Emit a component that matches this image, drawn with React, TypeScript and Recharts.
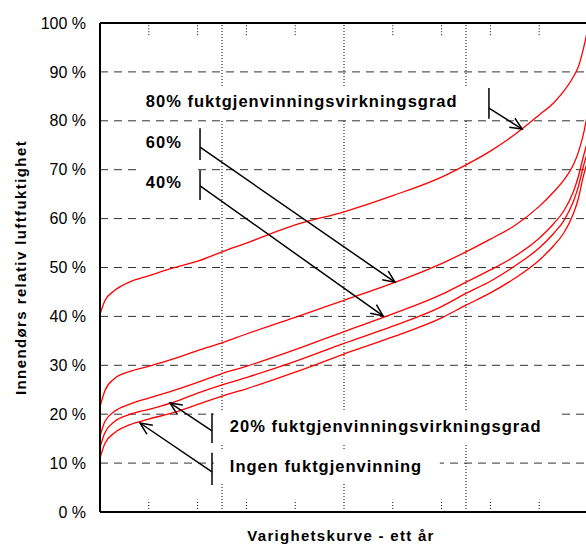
import {
  CartesianGrid,
  Line,
  LineChart,
  ReferenceDot,
  ReferenceLine,
  XAxis,
  YAxis,
} from "recharts";

// andel av året (varighetskurve), 0 = start, 1 = hele året
const durationShare = [
  0, 0.01, 0.03, 0.06, 0.1, 0.15, 0.2, 0.25, 0.3, 0.4, 0.5, 0.6, 0.7, 0.75,
  0.8, 0.85, 0.9, 0.93, 0.95, 0.97, 0.98, 0.99, 1,
];

// innendørs RF (%) for hver virkningsgrad
const rh80 = [
  40.4, 43.2, 45.3, 47, 48.3, 49.9, 51.3, 53.2, 55, 58.7, 61.4, 64.7, 68.5, 71,
  73.8, 77.2, 81.2, 83.7, 86, 89, 91, 94.5, 99,
];
const rh60 = [
  21.5, 24.8, 27.3, 28.7, 29.8, 31.3, 33, 34.6, 36.4, 39.8, 43.3, 46.8, 50.8,
  53.2, 55.8, 58.6, 62.5, 65.5, 67.8, 71, 73.5, 77, 82,
];
const rh40 = [
  15.5, 18.5, 20.6, 22, 23.3, 24.8, 26.5, 28.3, 29.8, 33.2, 36.9, 40.5, 44.5,
  47, 49.5, 52.3, 56, 59, 61.5, 65.5, 68.5, 72.5, 76,
];
const rh20 = [
  13.2, 16.2, 18.5, 19.9, 21, 22.4, 24.3, 26, 27.5, 30.8, 34.5, 38, 42, 44.7,
  47.2, 50.3, 54, 57, 59.5, 63.5, 66.5, 70.5, 74,
];
const rh0 = [
  11, 14, 16.2, 17.8, 19, 20.3, 22, 23.7, 25.2, 28.6, 32.3, 35.8, 39.7, 42.3,
  44.8, 47.8, 51.5, 54.5, 57, 61, 64, 68.5, 72,
];

const humidityTicks = [0, 10, 20, 30, 40, 50, 60, 70, 80, 90, 100];
const quarterLines = [0.25, 0.5, 0.75];
const tenthTicks = [0.1, 0.2, 0.3, 0.4, 0.6, 0.7, 0.8, 0.9];

// tekstetiketter: posisjon i dataenheter (andel, RF %)
const labelTexts = [
  "80% fuktgjenvinningsvirkningsgrad",
  "60%",
  "40%",
  "20% fuktgjenvinningsvirkningsgrad",
  "Ingen fuktgjenvinning",
];
const labelShare = [0.094, 0.094, 0.094, 0.266, 0.266];
const labelRh = [82.8, 74.4, 66.3, 16.4, 8.2];

// loddrette streker ved etikettene
const barShare = [0.797, 0.205, 0.205, 0.2295, 0.2295];
const barTop = [86.7, 78.5, 69.9, 20.2, 12.1];
const barBottom = [80.4, 72.0, 63.8, 14.1, 5.5];

// piler: fra streken til kurven
const arrowFrom = [
  [0.797, 82.6],
  [0.205, 74.6],
  [0.205, 66.7],
  [0.2295, 16.6],
  [0.2295, 8.2],
];
const arrowTo = [
  [0.865, 78.3],
  [0.6045, 47.0],
  [0.58, 40.1],
  [0.1434, 22.3],
  [0.082, 18.2],
];

const data = durationShare.map((t, i) => ({
  t,
  rh80: rh80[i],
  rh60: rh60[i],
  rh40: rh40[i],
  rh20: rh20[i],
  rh0: rh0[i],
}));

const FONT = "'Liberation Sans', Arial, Helvetica, sans-serif";
const boxPad = [
  { left: 6, width: 335 },
  { left: 8, width: 50 },
  { left: 8, width: 58 },
  { left: 16, width: 346 },
  { left: 16, width: 226 },
];

function Arrow(props: any) {
  const { x1, y1, x2, y2 } = props;
  const a = Math.atan2(y2 - y1, x2 - x1);
  const len = 13;
  const spread = 0.42;
  const wx1 = x2 - len * Math.cos(a - spread);
  const wy1 = y2 - len * Math.sin(a - spread);
  const wx2 = x2 - len * Math.cos(a + spread);
  const wy2 = y2 - len * Math.sin(a + spread);
  return (
    <g>
      <line x1={x1} y1={y1} x2={x2} y2={y2} stroke="#000" strokeWidth={1.5} />
      <polyline
        points={`${wx1},${wy1} ${x2},${y2} ${wx2},${wy2}`}
        fill="none"
        stroke="#000"
        strokeWidth={1.5}
      />
    </g>
  );
}

function makeLabel(i: number) {
  return (props: any) => {
    const { cx, cy } = props;
    return (
      <g>
        <rect
          x={cx - boxPad[i].left}
          y={cy - 21}
          width={boxPad[i].width}
          height={33}
          fill="#fff"
        />
        <text
          x={cx}
          y={cy}
          fontFamily={FONT}
          fontSize={16.5}
          fontWeight="bold"
          letterSpacing={1}
          fill="#000"
        >
          {labelTexts[i]}
        </text>
      </g>
    );
  };
}

function YLabel(props: any) {
  const vb = props.viewBox || { x: 0, y: 23, width: 100, height: 489 };
  const x = vb.x + 26;
  const y = vb.y + vb.height / 2;
  return (
    <text
      x={x}
      y={y}
      transform={`rotate(-90, ${x}, ${y})`}
      textAnchor="middle"
      fontFamily={FONT}
      fontSize={15}
      fontWeight="bold"
      letterSpacing={1.4}
      fill="#000"
    >
      Innendørs relativ luftfuktighet
    </text>
  );
}

function XLabel(props: any) {
  const vb = props.viewBox || { x: 100, y: 512, width: 488, height: 33 };
  return (
    <text
      x={vb.x + vb.width / 2 - 3}
      y={vb.y + vb.height - 4}
      textAnchor="middle"
      fontFamily={FONT}
      fontSize={15}
      fontWeight="bold"
      letterSpacing={1.3}
      fill="#000"
    >
      Varighetskurve - ett år
    </text>
  );
}

const series = ["rh80", "rh60", "rh40", "rh20", "rh0"];

export default function App() {
  return (
    <div
      style={{
        position: "fixed",
        left: 0,
        top: 0,
        width: 586,
        height: 545,
        overflow: "hidden",
        background: "#fff",
      }}
    >
      <LineChart
        width={592}
        height={545}
        data={data}
        margin={{ top: 23, right: 4, bottom: 0, left: 0 }}
      >
        <CartesianGrid
          vertical={false}
          stroke="#333"
          strokeDasharray="8 6"
        />
        <XAxis
          type="number"
          dataKey="t"
          domain={[0, 1]}
          tick={false}
          tickLine={false}
          height={33}
          axisLine={{ stroke: "#000", strokeWidth: 2 }}
          label={{ content: XLabel }}
        />
        <YAxis
          type="number"
          domain={[0, 100]}
          ticks={humidityTicks}
          interval={0}
          width={100}
          tickLine={false}
          tickMargin={8}
          tickFormatter={(v) => `${v} %`}
          tick={{ fill: "#000", fontSize: 16, fontFamily: FONT }}
          axisLine={{ stroke: "#000", strokeWidth: 2 }}
          label={{ content: YLabel }}
        />
        <ReferenceLine y={100} stroke="#000" strokeWidth={2} />
        {quarterLines.map((q) => (
          <ReferenceLine
            key={`q${q}`}
            x={q}
            stroke="#000"
            strokeDasharray="1 2"
          />
        ))}
        {tenthTicks.map((q) => (
          <ReferenceLine
            key={`tb${q}`}
            segment={[
              { x: q, y: 0 },
              { x: q, y: 2.5 },
            ]}
            stroke="#000"
            strokeDasharray="1 2"
          />
        ))}
        {tenthTicks.map((q) => (
          <ReferenceLine
            key={`tt${q}`}
            segment={[
              { x: q, y: 97.5 },
              { x: q, y: 100 },
            ]}
            stroke="#000"
            strokeDasharray="1 2"
          />
        ))}
        {series.map((k) => (
          <Line
            key={k}
            type="monotone"
            dataKey={k}
            stroke="#ff0000"
            strokeWidth={1.3}
            dot={false}
            activeDot={false}
            isAnimationActive={false}
          />
        ))}
        {labelTexts.map((_, i) => (
          <ReferenceDot
            key={`lb${i}`}
            x={labelShare[i]}
            y={labelRh[i]}
            shape={makeLabel(i)}
          />
        ))}
        {barShare.map((b, i) => (
          <ReferenceLine
            key={`bar${i}`}
            segment={[
              { x: b, y: barTop[i] },
              { x: b, y: barBottom[i] },
            ]}
            stroke="#000"
            strokeWidth={1.5}
          />
        ))}
        {arrowFrom.map((f, i) => (
          <ReferenceLine
            key={`ar${i}`}
            segment={[
              { x: f[0], y: f[1] },
              { x: arrowTo[i][0], y: arrowTo[i][1] },
            ]}
            shape={Arrow}
          />
        ))}
      </LineChart>
    </div>
  );
}
